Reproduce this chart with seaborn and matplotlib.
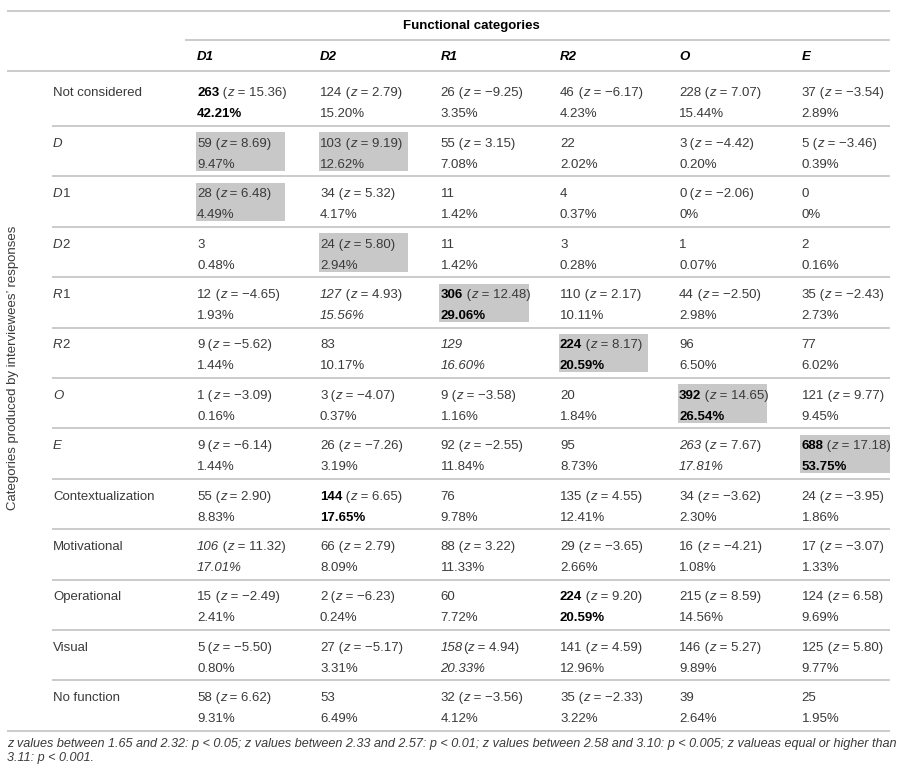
import matplotlib
matplotlib.use("Agg")
import numpy as np
import pandas as pd
import seaborn as sns
import matplotlib.pyplot as plt
from matplotlib.patches import Rectangle

# ---------------- data ----------------
row_labels = ["Not considered", "D", "D1", "D2", "R1", "R2", "O", "E",
              "Contextualization", "Motivational", "Operational", "Visual", "No function"]
row_is_code = [False, True, True, True, True, True, True, True,
               False, False, False, False, False]
col_labels = ["D1", "D2", "R1", "R2", "O", "E"]

counts = [
    [263, 124, 26, 46, 228, 37],
    [59, 103, 55, 22, 3, 5],
    [28, 34, 11, 4, 0, 0],
    [3, 24, 11, 3, 1, 2],
    [12, 127, 306, 110, 44, 35],
    [9, 83, 129, 224, 96, 77],
    [1, 3, 9, 20, 392, 121],
    [9, 26, 92, 95, 263, 688],
    [55, 144, 76, 135, 34, 24],
    [106, 66, 88, 29, 16, 17],
    [15, 2, 60, 224, 215, 124],
    [5, 27, 158, 141, 146, 125],
    [58, 53, 32, 35, 39, 25],
]
zvals = [
    [15.36, 2.79, -9.25, -6.17, 7.07, -3.54],
    [8.69, 9.19, 3.15, None, -4.42, -3.46],
    [6.48, 5.32, None, None, -2.06, None],
    [None, 5.80, None, None, None, None],
    [-4.65, 4.93, 12.48, 2.17, -2.50, -2.43],
    [-5.62, None, None, 8.17, None, None],
    [-3.09, -4.07, -3.58, None, 14.65, 9.77],
    [-6.14, -7.26, -2.55, None, 7.67, 17.18],
    [2.90, 6.65, None, 4.55, -3.62, -3.95],
    [11.32, 2.79, 3.22, -3.65, -4.21, -3.07],
    [-2.49, -6.23, None, 9.20, 8.59, 6.58],
    [-5.50, -5.17, 4.94, 4.59, 5.27, 5.80],
    [6.62, None, -3.56, -2.33, None, None],
]
percents = [
    [42.21, 15.20, 3.35, 4.23, 15.44, 2.89],
    [9.47, 12.62, 7.08, 2.02, 0.20, 0.39],
    [4.49, 4.17, 1.42, 0.37, 0.0, 0.0],
    [0.48, 2.94, 1.42, 0.28, 0.07, 0.16],
    [1.93, 15.56, 29.06, 10.11, 2.98, 2.73],
    [1.44, 10.17, 16.60, 20.59, 6.50, 6.02],
    [0.16, 0.37, 1.16, 1.84, 26.54, 9.45],
    [1.44, 3.19, 11.84, 8.73, 17.81, 53.75],
    [8.83, 17.65, 9.78, 12.41, 2.30, 1.86],
    [17.01, 8.09, 11.33, 2.66, 1.08, 1.33],
    [2.41, 0.24, 7.72, 20.59, 14.56, 9.69],
    [0.80, 3.31, 20.33, 12.96, 9.89, 9.77],
    [9.31, 6.49, 4.12, 3.22, 2.64, 1.95],
]
bold_cells = [(0, 0), (4, 2), (5, 3), (6, 4), (7, 5), (8, 1), (10, 3)]
italic_cells = [(4, 1), (5, 2), (7, 4), (9, 0), (11, 2)]
shaded_cells = [(1, 0), (1, 1), (2, 0), (3, 1), (4, 2), (5, 3), (6, 4), (7, 5)]
nospace_cells = [(11, 2)]

header_title = "Functional categories"
y_title = "Categories produced by interviewees’ responses"
footnote_lines = [
    "z values between 1.65 and 2.32: p < 0.05; z values between 2.33 and 2.57: p < 0.01; "
    "z values between 2.58 and 3.10: p < 0.005; z valueas equal or higher than",
    "3.11: p < 0.001.",
]

# ---------------- style ----------------
sns.set_theme(style="white")
plt.rcParams["font.family"] = ["Liberation Sans", "DejaVu Sans"]

FS = 9.5
TXT = "#3a3a3a"
BLK = "#000000"
RULE = "#bdbdbd"
SHADE = "#c8c8c8"

W, H = 909, 778
fig = plt.figure(figsize=(W / 100, H / 100), dpi=100)
ax = fig.add_axes([0, 0, 1, 1])
ax.set_xlim(0, W)
ax.set_ylim(H, 0)
ax.axis("off")
renderer = fig.canvas.get_renderer()

X_LEFT, X_RIGHT = 7, 890
X_ROWLAB = 53
COL_X = [197, 320, 440.5, 560, 679, 801.5]
ROW_PITCH = 50.4
ROW_BOTTOM = [75.5 + ROW_PITCH * (k + 1) for k in range(len(row_labels))]
ROW_TOP = [71] + ROW_BOTTOM[:-1]


def draw_runs(x, y, runs, size=FS):
    for s, weight, style, color in runs:
        t = ax.text(x, y, s, fontsize=size, fontweight=weight, fontstyle=style,
                    color=color, va="baseline", ha="left")
        x += t.get_window_extent(renderer).width
    return x


def fmt_z(z):
    return ("\u2212" if z < 0 else "") + f"{abs(z):.2f}"


def fmt_p(p):
    return "0%" if p == 0 else f"{p:.2f}%"


# rules
ax.hlines(10.7, X_LEFT, X_RIGHT, color=RULE, lw=1.1)
ax.hlines(40, 185, X_RIGHT, color=RULE, lw=1.1)
ax.hlines(71, X_LEFT, X_RIGHT, color=RULE, lw=1.1)
for k, yb in enumerate(ROW_BOTTOM):
    x0 = X_LEFT if k == len(ROW_BOTTOM) - 1 else 52
    ax.hlines(yb, x0, X_RIGHT, color=RULE, lw=1.1)

# shaded cells
for (r, c) in shaded_cells:
    y0 = ROW_TOP[r] + 6.5 if r > 0 else ROW_BOTTOM[r] - 44.5
    y1 = ROW_BOTTOM[r] - 5.5
    ax.add_patch(Rectangle((COL_X[c] - 1.5, y0), 89.5, y1 - y0,
                           facecolor=SHADE, edgecolor="none", zorder=0))

# headers
ax.text(471.5, 29, header_title, fontsize=FS, fontweight="bold", color=BLK,
        ha="center", va="baseline")
for c, lab in enumerate(col_labels):
    draw_runs(COL_X[c], 59.5, [(lab, "bold", "italic", BLK)])

# y title
ax.text(13, 368, y_title, fontsize=FS, color=TXT, rotation=90,
        ha="center", va="center")

# rows
for r, lab in enumerate(row_labels):
    yb = ROW_BOTTOM[r]
    y1, y2 = yb - 29.5, yb - 8.5
    if row_is_code[r]:
        draw_runs(X_ROWLAB, y1, [(lab[0], "normal", "italic", TXT),
                                 (lab[1:], "normal", "normal", TXT)])
    else:
        draw_runs(X_ROWLAB, y1, [(lab, "normal", "normal", TXT)])
    for c in range(len(col_labels)):
        n, z, p = counts[r][c], zvals[r][c], percents[r][c]
        if (r, c) in bold_cells:
            nw, ns, ncol = "bold", "normal", BLK
        elif (r, c) in italic_cells:
            nw, ns, ncol = "normal", "italic", TXT
        else:
            nw, ns, ncol = "normal", "normal", TXT
        runs = [(str(n), nw, ns, ncol)]
        if z is not None:
            opener = "(" if (r, c) in nospace_cells else " ("
            runs += [(opener, "normal", "normal", TXT),
                     ("z", "normal", "italic", TXT),
                     (" = " + fmt_z(z) + ")", "normal", "normal", TXT)]
        draw_runs(COL_X[c], y1, runs)
        draw_runs(COL_X[c], y2, [(fmt_p(p), nw, ns, ncol)])

# footnote, fitted to the reference width
probe = ax.text(0, 0, footnote_lines[0], fontsize=8.5, fontstyle="italic")
wpx = probe.get_window_extent(renderer).width
probe.remove()
fs_foot = 8.5 * (889 - X_LEFT) / wpx
for i, line in enumerate(footnote_lines):
    ax.text(X_LEFT, 746.5 + 15 * i, line, fontsize=fs_foot, fontstyle="italic",
            color=TXT, ha="left", va="baseline")

fig.savefig("out.png", dpi=100)
